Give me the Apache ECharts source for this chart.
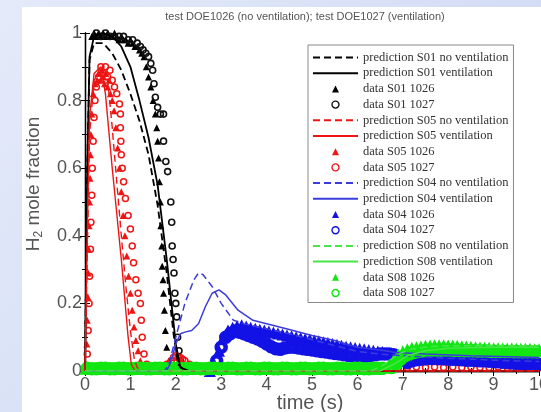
<!DOCTYPE html>
<html><head><meta charset="utf-8">
<script src="https://cdn.jsdelivr.net/npm/echarts@6/dist/echarts.min.js"></script>
<style>html,body{margin:0;padding:0;}#c{width:541px;height:412px;}</style>
</head><body><div id="c"></div>
<script>
// ---------- data (time s, H2 mole fraction) ----------
const xTickValues = [0,1,2,3,4,5,6,7,8,9,10];
const yTickValues = [0,0.2,0.4,0.6,0.8,1];

const predS01NoVent = [[0,0],[0.05,0.6],[0.1,0.92],[0.2,0.97],[0.4,0.97],[0.6,0.94],[0.8,0.89],[1.0,0.82],[1.2,0.74],[1.4,0.64],[1.6,0.49],[1.8,0.29],[1.95,0.11],[2.05,0.02],[2.2,0],[10,0]];
const predS01Vent = [[0,0],[0.05,0.6],[0.1,0.93],[0.2,0.99],[0.4,1.0],[0.6,0.99],[0.8,0.96],[1.0,0.9],[1.2,0.8],[1.4,0.69],[1.6,0.55],[1.8,0.33],[2.0,0.08],[2.1,0.01],[2.3,0],[10,0]];
const dataS01_1026 = [[0.15,0.99],[0.2,1.0],[0.25,0.99],[0.3,1.0],[0.35,0.99],[0.4,1.0],[0.45,0.99],[0.5,1.0],[0.55,0.99],[0.6,0.99],[0.65,1.0],[0.7,0.99],[0.75,0.98],[0.8,0.99],[0.85,0.98],[0.9,0.98],[0.95,0.97],[1.0,0.98],[1.05,0.97],[1.1,0.96],[1.15,0.96],[1.2,0.95],[1.25,0.94],[1.3,0.93],[1.35,0.9],[1.4,0.87],[1.45,0.84],[1.5,0.8],[1.55,0.76],[1.58,0.72],[1.6,0.68],[1.62,0.63],[1.64,0.56],[1.66,0.5],[1.67,0.43],[1.69,0.37],[1.7,0.31],[1.72,0.27],[1.73,0.23],[1.75,0.18],[1.77,0.12],[1.8,0.07],[1.85,0.03],[1.95,0.01]];
const dataS01_1027 = [[0.25,1.0],[0.35,0.99],[0.45,1.0],[0.55,0.99],[0.65,0.99],[0.75,0.99],[0.85,0.99],[0.95,0.98],[1.05,0.98],[1.15,0.97],[1.22,0.96],[1.28,0.95],[1.34,0.94],[1.4,0.93],[1.45,0.91],[1.49,0.89],[1.52,0.85],[1.55,0.81],[1.6,0.78],[1.66,0.76],[1.73,0.76],[1.73,0.68],[1.78,0.62],[1.82,0.59],[1.89,0.5],[1.91,0.44],[1.92,0.37],[1.94,0.33],[1.96,0.29],[1.98,0.23],[2.0,0.2],[2.02,0.16],[2.04,0.1],[2.07,0.06],[2.1,0.03],[2.2,0.01]];

const predS05NoVent = [[0,0],[0.05,0.35],[0.1,0.7],[0.2,0.86],[0.35,0.9],[0.5,0.86],[0.6,0.72],[0.7,0.56],[0.8,0.4],[0.9,0.25],[1.0,0.12],[1.08,0.04],[1.15,0.01],[1.3,0],[10,0]];
const predS05Vent = [[0,0],[0.05,0.4],[0.1,0.75],[0.2,0.88],[0.35,0.9],[0.45,0.82],[0.6,0.6],[0.8,0.33],[0.95,0.1],[1.02,0.02],[1.1,0],[10,0]];
const dataS05_1026 = [[0.03,0.02],[0.04,0.08],[0.05,0.15],[0.06,0.22],[0.07,0.29],[0.08,0.36],[0.09,0.43],[0.1,0.5],[0.11,0.57],[0.12,0.64],[0.13,0.7],[0.15,0.76],[0.18,0.82],[0.22,0.85],[0.27,0.86],[0.3,0.88],[0.34,0.86],[0.37,0.89],[0.4,0.87],[0.43,0.85],[0.46,0.88],[0.5,0.84],[0.53,0.86],[0.56,0.82],[0.6,0.8],[0.64,0.77],[0.68,0.72],[0.72,0.66],[0.76,0.6],[0.8,0.53],[0.84,0.46],[0.88,0.4],[0.92,0.34],[0.96,0.28],[1.0,0.23],[1.04,0.18],[1.08,0.13],[1.12,0.09],[1.17,0.06],[1.22,0.03],[1.3,0.01]];
const dataS05_1027 = [[0.05,0.05],[0.07,0.12],[0.09,0.2],[0.1,0.28],[0.12,0.36],[0.13,0.44],[0.15,0.52],[0.16,0.6],[0.18,0.68],[0.2,0.75],[0.22,0.8],[0.25,0.84],[0.3,0.87],[0.35,0.9],[0.4,0.88],[0.45,0.9],[0.5,0.87],[0.55,0.89],[0.6,0.86],[0.65,0.84],[0.7,0.82],[0.76,0.79],[0.78,0.76],[0.78,0.72],[0.79,0.68],[0.8,0.64],[0.82,0.6],[0.85,0.56],[0.89,0.51],[0.95,0.46],[1.0,0.42],[1.04,0.37],[1.07,0.32],[1.12,0.27],[1.17,0.23],[1.22,0.2],[1.24,0.15],[1.26,0.1],[1.3,0.05],[1.36,0.02],
  [1.8,0.02],[1.9,0.03],[1.95,0.04],[2.0,0.045],[2.05,0.04],[2.1,0.04],[2.15,0.035],[2.2,0.03],[2.3,0.02],[2.4,0.01],
  [6.9,0.008],[7.1,0.01],[7.3,0.012],[7.5,0.01],[7.7,0.012],[7.9,0.01],[8.1,0.012],[8.3,0.01],[8.5,0.012],[8.7,0.01],[8.9,0.01],[9.1,0.012],[9.3,0.01],[9.5,0.01],[9.7,0.012],[9.9,0.01]];

const predS04NoVent = [[0,0],[1.75,0],[1.85,0.02],[2.0,0.1],[2.2,0.2],[2.4,0.27],[2.5,0.29],[2.6,0.285],[2.8,0.25],[3.0,0.2],[3.27,0.15],[3.5,0.14],[4.0,0.125],[4.5,0.11],[5.0,0.093],[5.5,0.075],[6.0,0.058],[6.5,0.05],[7.0,0.045],[8.0,0.038],[9.0,0.032],[10,0.028]];
const predS04Vent = [[0,0],[1.8,0],[1.9,0.03],[2.0,0.08],[2.1,0.11],[2.2,0.115],[2.35,0.12],[2.5,0.14],[2.65,0.19],[2.8,0.23],[2.95,0.24],[3.1,0.225],[3.37,0.18],[3.7,0.15],[4.0,0.14],[4.5,0.123],[5.0,0.105],[5.5,0.09],[6.0,0.07],[6.5,0.062],[6.85,0.055],[7.5,0.05],[8.5,0.045],[10,0.04]];
const dataS04_1026 = [[2.75,0.0],[2.85,0.02],[2.95,0.06],[3.05,0.1],[3.15,0.12],[3.25,0.128],[3.35,0.133],[3.45,0.135],[3.55,0.132],[3.65,0.128],[3.75,0.125],[3.85,0.122],[3.95,0.12],[4.05,0.117],[4.15,0.114],[4.25,0.111],[4.35,0.108],[4.45,0.105],[4.55,0.103],[4.65,0.1],[4.75,0.098],[4.85,0.095],[4.95,0.093],[5.05,0.09],[5.15,0.088],[5.25,0.085],[5.35,0.083],[5.45,0.08],[5.55,0.078],[5.65,0.075],[5.75,0.072],[5.85,0.07],[5.95,0.068],[6.05,0.066],[6.15,0.064],[6.25,0.062],[6.35,0.06],[6.45,0.058],[6.55,0.056],[6.65,0.054],[6.75,0.052],
  [7.05,0.035],[7.15,0.045],[7.25,0.05],[7.35,0.053],[7.45,0.055],[7.55,0.056],[7.65,0.056],[7.75,0.055],[7.85,0.055],[7.95,0.054],[8.05,0.053],[8.15,0.052],[8.25,0.051],[8.35,0.05],[8.45,0.05],[8.55,0.049],[8.65,0.048],[8.75,0.047],[8.85,0.046],[8.95,0.045],[9.05,0.044],[9.15,0.043],[9.25,0.042],[9.35,0.041],[9.45,0.04],[9.55,0.039],[9.65,0.038],[9.75,0.037],[9.85,0.036],[9.95,0.035]];
const dataS04_1027 = [[2.8,0.005],[2.9,0.03],[3.0,0.07],[3.1,0.1],[3.2,0.11],[3.3,0.118],[3.4,0.115],[3.5,0.11],[3.6,0.105],[3.7,0.1],[3.8,0.095],[3.9,0.088],[4.0,0.08],[4.1,0.072],[4.2,0.066],[4.3,0.064],[4.4,0.068],[4.5,0.07],[4.6,0.07],[4.7,0.068],[4.8,0.066],[4.9,0.064],[5.0,0.062],[5.1,0.06],[5.2,0.058],[5.3,0.056],[5.4,0.054],[5.5,0.052],[5.6,0.05],[5.7,0.048],[5.8,0.046],[5.9,0.045],[6.0,0.044],[6.1,0.043],[6.2,0.044],[6.3,0.046],[6.4,0.048],[6.5,0.05],[6.6,0.05],[6.7,0.05],[6.8,0.048],
  [7.1,0.025],[7.2,0.03],[7.3,0.033],[7.4,0.035],[7.5,0.036],[7.6,0.037],[7.7,0.037],[7.8,0.036],[7.9,0.036],[8.0,0.035],[8.1,0.035],[8.2,0.034],[8.3,0.033],[8.4,0.032],[8.5,0.032],[8.6,0.031],[8.7,0.03],[8.8,0.03],[8.9,0.029],[9.0,0.028],[9.1,0.027],[9.2,0.026],[9.3,0.025],[9.4,0.024],[9.5,0.023],[9.6,0.022],[9.7,0.021],[9.8,0.02],[9.9,0.02],[10.0,0.019]];

const predS08NoVent = [[0,0],[6.3,0],[6.6,0.02],[6.9,0.05],[7.2,0.065],[7.6,0.072],[8.0,0.075],[9.0,0.075],[10,0.075]];
const predS08Vent = [[0,0],[6.5,0],[6.8,0.02],[7.1,0.045],[7.5,0.06],[8.0,0.067],[9.0,0.07],[10,0.07]];
const dataS08_1026 = [[0.0,0.005],[0.1,0.005],[0.2,0.006],[0.3,0.005],[0.4,0.005],[0.5,0.006],[0.6,0.005],[0.7,0.005],[0.8,0.006],[0.9,0.005],[1.0,0.005],[1.1,0.006],[1.2,0.005],[1.3,0.005],[1.4,0.006],[1.5,0.005],[1.6,0.005],[1.7,0.006],[1.8,0.005],[1.9,0.005],[2.0,0.006],[2.1,0.005],[2.2,0.005],[2.3,0.006],[2.4,0.005],[2.5,0.005],[2.6,0.006],[2.7,0.005],[2.8,0.005],[2.9,0.006],[3.0,0.005],[3.1,0.005],[3.2,0.006],[3.3,0.005],[3.4,0.005],[3.5,0.006],[3.6,0.005],[3.7,0.005],[3.8,0.006],[3.9,0.005],[4.0,0.005],[4.1,0.006],[4.2,0.005],[4.3,0.005],[4.4,0.006],[4.5,0.005],[4.6,0.005],[4.7,0.006],[4.8,0.005],[4.9,0.005],[5.0,0.006],[5.1,0.005],[5.2,0.005],[5.3,0.006],[5.4,0.005],[5.5,0.005],[5.6,0.006],[5.7,0.005],[5.8,0.005],[5.9,0.006],[6.0,0.005],[6.1,0.005],[6.2,0.006],[6.3,0.005],[6.4,0.005],[6.5,0.006],
  [6.6,0.008],[6.7,0.02],[6.8,0.035],[6.9,0.05],[7.0,0.06],[7.1,0.066],[7.2,0.07],[7.3,0.072],[7.4,0.074],[7.5,0.076],[7.6,0.077],[7.7,0.078],[7.8,0.078],[7.9,0.078],[8.0,0.077],[8.1,0.077],[8.2,0.076],[8.3,0.075],[8.4,0.074],[8.5,0.073],[8.6,0.072],[8.7,0.071],[8.8,0.07],[8.9,0.07],[9.0,0.069],[9.1,0.069],[9.2,0.068],[9.3,0.068],[9.4,0.068],[9.5,0.067],[9.6,0.067],[9.7,0.067],[9.8,0.067],[9.9,0.066],[10.0,0.066]];
const dataS08_1027 = [[0.05,0.008],[0.15,0.007],[0.25,0.007],[0.35,0.008],[0.45,0.008],[0.55,0.007],[0.65,0.007],[0.75,0.008],[0.85,0.008],[0.95,0.007],[1.05,0.007],[1.15,0.008],[1.25,0.008],[1.35,0.007],[1.45,0.007],[1.55,0.008],[1.65,0.008],[1.75,0.007],[1.85,0.007],[1.95,0.008],[2.05,0.008],[2.15,0.007],[2.25,0.007],[2.35,0.008],[2.45,0.008],[2.55,0.007],[2.65,0.007],[2.75,0.008],[2.85,0.008],[2.95,0.007],[3.05,0.007],[3.15,0.008],[3.25,0.008],[3.35,0.007],[3.45,0.007],[3.55,0.008],[3.65,0.008],[3.75,0.007],[3.85,0.007],[3.95,0.008],[4.05,0.008],[4.15,0.007],[4.25,0.007],[4.35,0.008],[4.45,0.008],[4.55,0.007],[4.65,0.007],[4.75,0.008],[4.85,0.008],[4.95,0.007],[5.05,0.007],[5.15,0.008],[5.25,0.008],[5.35,0.007],[5.45,0.007],[5.55,0.008],[5.65,0.008],[5.75,0.007],[5.85,0.007],[5.95,0.008],[6.05,0.008],[6.15,0.007],[6.25,0.007],[6.35,0.008],[6.45,0.008],[6.55,0.008],
  [6.75,0.01],[6.85,0.02],[6.95,0.035],[7.05,0.045],[7.15,0.05],[7.25,0.055],[7.35,0.058],[7.45,0.06],[7.55,0.061],[7.65,0.062],[7.75,0.062],[7.85,0.062],[7.95,0.062],[8.05,0.062],[8.15,0.061],[8.25,0.061],[8.35,0.06],[8.45,0.06],[8.55,0.06],[8.65,0.059],[8.75,0.059],[8.85,0.059],[8.95,0.058],[9.05,0.058],[9.15,0.058],[9.25,0.058],[9.35,0.058],[9.45,0.057],[9.55,0.057],[9.65,0.057],[9.75,0.057],[9.85,0.057],[9.95,0.057]];

// ---------- chart ----------
const BLACK = '#000000', RED = '#ee1515', BLUE = '#1212e6', BLUE_L = '#3c3cdc', GREEN = '#12e612', GREEN_L = '#46e646';
const TRI_ICON = 'path://M0 10L5 0L10 10Z';
const CIRC_ICON = 'path://M5 0A5 5 0 1 1 4.99 0Z';

function line(name, data, color, dashed, width) {
  // transparent item colour hides the legend's centre dot; the line keeps its own colour
  return { name, type: 'line', data, showSymbol: false, symbol: 'none', clip: true,
    lineStyle: { color, width: width || 1.5, type: dashed ? [7, 4] : 'solid' },
    itemStyle: { color: 'rgba(0,0,0,0)', borderColor: 'rgba(0,0,0,0)' } };
}
function tri(name, data, color, size) {
  return { name, type: 'scatter', data, symbol: 'triangle', symbolSize: size || 6, clip: true,
    itemStyle: { color, opacity: 1 } };
}
function circ(name, data, color, size, bw) {
  return { name, type: 'scatter', data, symbol: 'circle', symbolSize: size || 6, clip: true,
    itemStyle: { color: 'rgba(255,255,255,0)', borderColor: color, borderWidth: bw || 1.3, opacity: 1 } };
}

const seriesList = [
  line('prediction S01 no ventilation', predS01NoVent, BLACK, true, 1.8),
  line('prediction S01 ventilation', predS01Vent, BLACK, false, 1.8),
  tri('data S01 1026', dataS01_1026, BLACK, 7),
  circ('data S01 1027', dataS01_1027, '#111', 6, 1.6),
  line('prediction S05 no ventilation', predS05NoVent, RED, true, 1.4),
  line('prediction S05 ventilation', predS05Vent, RED, false, 1.4),
  tri('data S05 1026', dataS05_1026, RED, 7),
  circ('data S05 1027', dataS05_1027, RED, 6, 1.5),
  line('prediction S04 no ventilation', predS04NoVent, BLUE_L, true, 1.5),
  line('prediction S04 ventilation', predS04Vent, BLUE_L, false, 1.5),
  tri('data S04 1026', dataS04_1026, BLUE, 12),
  circ('data S04 1027', dataS04_1027, BLUE, 9, 4.5),
  line('prediction S08 no ventilation', predS08NoVent, GREEN_L, true, 1.5),
  line('prediction S08 ventilation', predS08Vent, GREEN_L, false, 1.5),
  tri('data S08 1026', dataS08_1026, GREEN, 11),
  circ('data S08 1027', dataS08_1027, GREEN, 9, 4.5)
];
const legendData = seriesList.map(s => {
  if (s.type === 'line') return { name: s.name };
  if (s.symbol === 'triangle') return { name: s.name, icon: TRI_ICON };
  return { name: s.name, icon: CIRC_ICON, itemStyle: { borderWidth: 1.4 } };
});

const axisLineStyle = { color: '#000', width: 1.3 };
const chart = echarts.init(document.getElementById('c'), null, { renderer: 'canvas' });
chart.setOption({
  animation: false,
  backgroundColor: { type: 'linear', x: 0, y: 0, x2: 1, y2: 1,
    colorStops: [{ offset: 0, color: '#e4eaf9' }, { offset: 1, color: '#c9d5f3' }] },
  graphic: [{ type: 'rect', z: -100, silent: true, shape: { x: 22, y: 7, width: 519, height: 405 }, style: { fill: '#ffffff' } }],
  title: { text: 'test DOE1026 (no ventilation); test DOE1027 (ventilation)', left: 300, top: 6, textAlign: 'center',
    textStyle: { fontSize: 11, fontWeight: 'normal', color: '#555', fontFamily: 'Liberation Sans' } },
  grid: { left: 85, right: 2, top: 33, bottom: 41, outerBoundsMode: 'none', containLabel: false },
  legend: {
    data: legendData,
    orient: 'vertical', left: 308, top: 45, padding: [6, 5, 3, 4], itemGap: 2.7, itemWidth: 45, itemHeight: 7,
    symbolKeepAspect: true,
    backgroundColor: '#fff', borderColor: '#888', borderWidth: 1,
    textStyle: { fontFamily: 'Liberation Serif', fontSize: 12.5, color: '#333', lineHeight: 11 }
  },
  xAxis: [
    { type: 'value', min: 0, max: 10, interval: 1, position: 'bottom',
      axisLine: { lineStyle: axisLineStyle }, axisTick: { inside: true, length: 5, lineStyle: { color: '#000' } },
      minorTick: { show: true, splitNumber: 2, length: 3, lineStyle: { color: '#000' } },
      splitLine: { show: false },
      axisLabel: { fontSize: 18, color: '#555', margin: 5, fontFamily: 'Liberation Sans',
        formatter: v => xTickValues.includes(v) ? String(v) : '' },
      name: 'time (s)', nameLocation: 'middle', nameGap: 22, nameMoveOverlap: false,
      nameTextStyle: { fontSize: 20, color: '#555', fontFamily: 'Liberation Sans', padding: [0, 4, 0, 0] } },
    { type: 'value', min: 0, max: 10, interval: 1, position: 'top',
      axisLine: { lineStyle: axisLineStyle }, axisTick: { inside: true, length: 5, lineStyle: { color: '#000' } },
      minorTick: { show: true, splitNumber: 2, length: 3, lineStyle: { color: '#000' } },
      splitLine: { show: false }, axisLabel: { show: false } }
  ],
  yAxis: [
    { type: 'value', min: 0, max: 1, interval: 0.2, position: 'left',
      axisLine: { lineStyle: axisLineStyle }, axisTick: { inside: true, length: 5, lineStyle: { color: '#000' } },
      minorTick: { show: true, splitNumber: 2, length: 3, lineStyle: { color: '#000' } },
      splitLine: { show: false },
      axisLabel: { fontSize: 18, color: '#555', margin: 3, fontFamily: 'Liberation Sans',
        formatter: v => { const r = Math.round(v * 10) / 10; return yTickValues.includes(r) ? String(r) : ''; } },
      name: '{a|H}{b|2}{a| mole fraction}', nameLocation: 'middle', nameGap: 40, nameRotate: 90,
      nameTextStyle: { color: '#555', padding: [0, 0, 0, 36],
        rich: { a: { fontSize: 19, color: '#555', fontFamily: 'Liberation Sans' },
                b: { fontSize: 12, color: '#555', fontFamily: 'Liberation Sans', padding: [10, 0, 0, 0] } } } },
    { type: 'value', min: 0, max: 1, interval: 0.2, position: 'right',
      axisLine: { lineStyle: axisLineStyle }, axisTick: { inside: true, length: 5, lineStyle: { color: '#000' } },
      minorTick: { show: true, splitNumber: 2, length: 3, lineStyle: { color: '#000' } },
      splitLine: { show: false }, axisLabel: { show: false } }
  ],
  series: seriesList
});
</script></body></html>
